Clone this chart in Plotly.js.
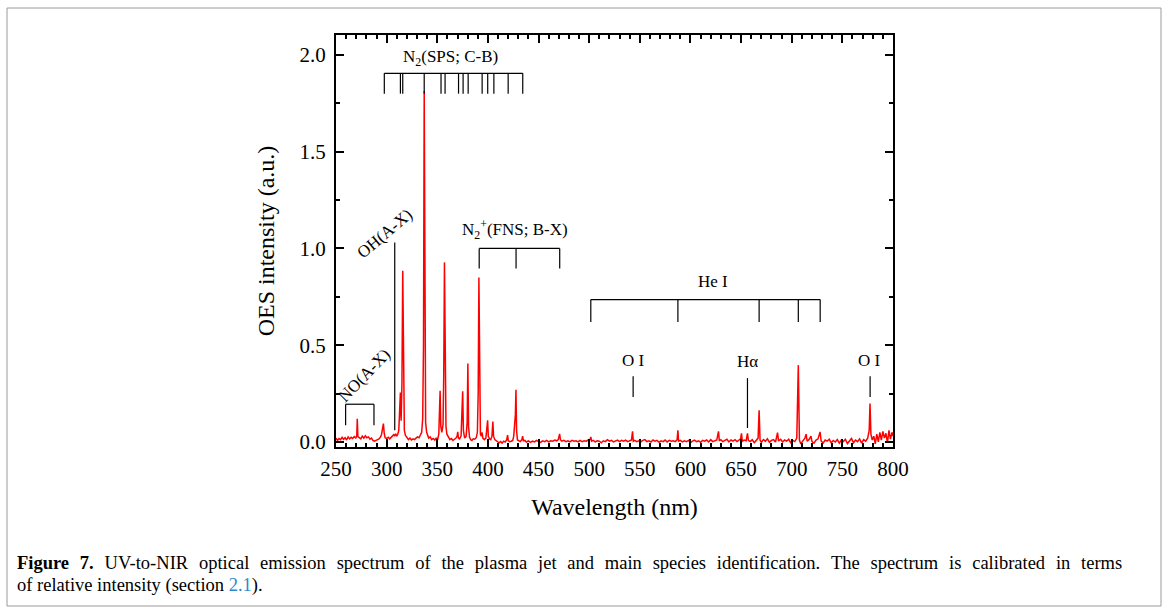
<!DOCTYPE html>
<html>
<head>
<meta charset="utf-8">
<script src="https://cdn.plot.ly/plotly-3.0.1.min.js"></script>
<style>html,body{margin:0;padding:0;background:#fff;}#chart{width:1168px;height:614px;}</style>
</head>
<body>
<div id="chart"></div>
<script>
// ---- Spectrum data ----
const uvWl = [250,251.5,253,254.5,256,257.5,259,260.5,262,263.5,265,266.5,268,269.5,270.5,271,271.6,273,274.5,276,277.5,279,280.5,282,283.5,285,286.5,288,289.5,291,292.5,294,295,296,296.8,297.6,298.5,300,
301.5,303,304.5,306,307,308,309,310,311,312,313,313.6,314.3,315.1,315.9,316.6,317.5,318.5,320,321.5,323,324.5,326,327.5,329,330.5,332,333.5,334.6,335.6,336.4,337.1,337.8,338.5,339.5,340.5,341.5,343,344.5];
const uvInt = [0.020,0.008,0.018,0.012,0.024,0.014,0.022,0.010,0.026,0.016,0.024,0.018,0.028,0.020,0.030,0.120,0.028,0.022,0.016,0.030,0.020,0.032,0.022,0.026,0.014,0.020,0.008,0.004,0.010,0.012,0.016,0.026,0.040,0.065,0.095,0.045,0.022,0.018,
0.024,0.016,0.026,0.030,0.038,0.032,0.042,0.030,0.040,0.060,0.160,0.255,0.110,0.300,0.885,0.250,0.060,0.035,0.020,0.012,0.020,0.010,0.016,0.012,0.020,0.026,0.022,0.040,0.050,0.120,0.500,1.814,0.450,0.100,0.050,0.035,0.020,0.026,0.012];

const blueWl = [346,347.5,349,350.5,351.5,352.1,352.8,353.5,354.5,355.7,356.4,357.1,357.8,358.6,359.5,361,362.5,364,365.5,367,368.5,369.6,370.2,370.9,372,373.5,374.4,375.1,375.8,377,378.5,379.5,380.2,380.9,381.8,383,384.2,385.5,387,388.5,389.6,390.4,391.1,391.8,392.6,393.5,394.2,395,396.5,398,399,399.7,400.4,401.5,402.8,404,404.9,405.6,406.8,408,409.5,411,412.5,414,415.5,417,418.5,419.4,420.2,421.5,423,424.5,425.5,426.4,427.1,427.7,428.3,429.2,430.5,432,433.5,434.3,435,436.5,438,440,442,444,446,448,450,452,454,456,458,460,462,464,466,468,469.5,470.8,471.6,473,475,477,479,481,483,485,487,489,491,493,495,497,499];
const blueInt = [0.018,0.010,0.020,0.016,0.040,0.120,0.265,0.080,0.050,0.090,0.350,0.928,0.300,0.080,0.040,0.022,0.012,0.018,0.008,0.014,0.020,0.030,0.052,0.020,0.016,0.030,0.120,0.262,0.060,0.020,0.030,0.100,0.405,0.080,0.025,0.012,0.008,0.016,0.014,0.022,0.050,0.250,0.850,0.200,0.040,0.030,0.050,0.020,0.012,0.020,0.060,0.112,0.030,0.016,0.012,0.030,0.105,0.030,0.012,0.006,0.000,-0.004,0.002,-0.006,0.004,0.000,0.010,0.035,0.006,0.002,0.004,0.008,0.030,0.090,0.140,0.270,0.060,0.010,0.004,0.002,0.012,0.030,0.006,0.008,0.000,0.006,-0.002,0.004,0.000,0.008,0.002,-0.002,0.006,0.002,0.008,0.000,0.006,0.004,0.010,0.006,0.012,0.042,0.012,0.004,0.008,0.002,0.006,0.000,0.008,0.004,0.006,0.000,0.008,0.002,0.006,0.004,0.010];

const visWl = [500.8,501.6,502.4,504,506,508,510,512,514,516,518,520,522,524,526,528,530,532,534,536,538,540,541.8,542.8,543.6,545,547,549,551,553,555,557,559,561,563,565,567,569,571,573,575,577,579,581,583,585,586.8,587.6,588.3,590,592,594,596,598,600,602,604,606,608,610,612,614,616,618,620,622,624,626,627.7,628.5,630,632,634,636,638,640,642,644,646,648,649.5,650.4,651.2,653,655,656.3,657.2,659,661,663,665,666.8,667.8,668.7,670,672,674,676,678,680,682,684,686,687,689,691,693,695,697,699,701,703,705,706.5,707.6,709,711,713,714.2,715.2,717,719,720,722,724,726,728,729,731,733,735,737,739,741,743,745,747,749,751,753,755,757,759,761,763,765,767,769,771,773,775,776.5,777.3,778.2,779.5,781,782.5,784,785.5,787,788.5,790,791.5,793,794.5,796,797.5,799,800];
const visInt = [0.012,0.026,0.004,0.008,0.000,0.006,0.004,-0.004,0.006,0.002,0.012,0.004,0.008,0.000,0.006,0.010,0.002,0.008,0.004,0.010,0.002,0.006,0.010,0.055,0.004,0.008,0.002,0.006,0.000,0.008,0.012,0.002,0.006,0.000,0.010,0.004,0.008,-0.002,0.006,0.002,0.010,0.000,0.008,0.004,0.006,0.002,0.012,0.060,0.004,0.008,0.000,0.006,0.002,0.008,-0.004,0.004,0.010,0.002,0.006,-0.002,0.008,0.004,0.010,0.000,0.012,0.002,0.006,0.010,0.055,0.006,0.012,0.002,0.008,0.014,0.000,0.010,0.004,0.012,0.002,0.008,0.016,0.045,0.004,0.010,0.006,0.045,0.008,0.002,0.012,-0.004,0.010,0.020,0.164,0.010,-0.002,0.012,0.004,0.016,-0.002,0.008,0.012,0.000,0.048,0.006,0.014,0.000,0.010,0.004,0.014,-0.004,0.008,0.002,0.020,0.397,0.010,-0.010,0.006,0.020,0.040,0.004,0.012,0.030,0.002,-0.006,0.010,0.016,0.052,0.006,-0.006,0.010,0.004,0.014,-0.004,0.008,0.000,0.012,-0.006,0.010,0.002,0.014,-0.008,0.008,0.018,-0.004,0.010,0.002,0.016,-0.006,0.012,0.004,0.020,0.060,0.199,0.040,0.010,0.030,-0.010,0.040,0.000,0.050,0.010,0.055,0.020,0.045,-0.005,0.060,0.015,0.050,0.030];

// ---- Species identification (wavelengths, nm) ----
const n2SpsLines = [297.7,313.6,315.9,337.1,353.7,357.7,371.0,375.5,380.5,394.3,399.8,405.9,420.0,434.4];
const n2pFnsLines = [391.4,427.8,470.9];
const heILines = [501.6,587.6,667.8,706.5,728.1];
const noBand = [259.5,287.5];
const ohLine = [308.0];
const oILines = [543.4,777.4];
const hAlphaLine = [656.3];

const xTickVals = [250,300,350,400,450,500,550,600,650,700,750,800];
const yTickVals = [0.0,0.5,1.0,1.5,2.0];

const captionLine1 = 'UV-to-NIR optical emission spectrum of the plasma jet and main species identification. The spectrum is calibrated in terms';
const captionLine2 = 'of relative intensity (section ';

// ---- Build traces ----
const wl = uvWl.concat(blueWl, visWl);
const inten = uvInt.concat(blueInt, visInt);

const spectrum = {
  x: wl, y: inten, type: 'scatter', mode: 'lines',
  line: {color: '#ff0000', width: 1.5},
  hoverinfo: 'skip', showlegend: false
};

const shapes = [];
const blk = {color: '#000', width: 1.2};
function bracket(lines, yTop, yBot) {
  shapes.push({type:'line', xref:'x', yref:'y', x0: lines[0], x1: lines[lines.length-1], y0: yTop, y1: yTop, line: blk});
  lines.forEach(v => shapes.push({type:'line', xref:'x', yref:'y', x0: v, x1: v, y0: yTop, y1: yBot, line: blk}));
}
function marker(v, yTop, yBot) {
  shapes.push({type:'line', xref:'x', yref:'y', x0: v, x1: v, y0: yTop, y1: yBot, line: blk});
}
bracket(n2SpsLines, 1.905, 1.80);
bracket(n2pFnsLines, 1.0, 0.897);
bracket(heILines, 0.736, 0.62);
bracket(noBand, 0.195, 0.086);
marker(ohLine[0], 1.031, 0.06);
oILines.forEach(v => marker(v, 0.34, 0.233));
marker(hAlphaLine[0], 0.33, 0.072);

// Figure frame
shapes.push({type:'rect', xref:'paper', yref:'paper',
  x0: (7-336)/557, x1: (1161-336)/557, y0: (447-606)/412, y1: (447-8)/412,
  line: {color: '#9a9a9a', width: 1}, layer: 'below'});

const serif = 'Liberation Serif, Times New Roman, serif';
const aFont = {family: serif, size: 17, color: '#000'};
const annotations = [
  {x: 362.6, y: 1.985, text: 'N<sub>2</sub>(SPS; C-B)'},
  {x: 426.9, y: 1.10, text: 'N<sub>2</sub><sup>+</sup>(FNS; B-X)'},
  {x: 621.8, y: 0.83, text: 'He I'},
  {x: 543.4, y: 0.42, text: 'O I'},
  {x: 656.4, y: 0.414, text: 'H\u03b1'},
  {x: 777.0, y: 0.42, text: 'O I'},
  {x: 298.4, y: 1.075, text: 'OH(A-X)', textangle: -40},
  {x: 277.7, y: 0.345, text: 'NO(A-X)', textangle: -46}
].map(a => Object.assign({xref:'x', yref:'y', showarrow:false, font: aFont, xanchor:'center', yanchor:'middle'}, a));

// justified first caption line: widen the word gaps
const wideGap = ' \u2004';
annotations.push({
  xref:'paper', yref:'paper', x: (15-336)/557, y: (447-563)/412, xanchor:'left', yanchor:'middle', showarrow:false, align:'left',
  font: {family: serif, size: 18.5, color:'#000'},
  text: '<b>Figure' + wideGap + '7.</b>' + wideGap + captionLine1.split(' ').join(wideGap)
});
annotations.push({
  xref:'paper', yref:'paper', x: (15-336)/557, y: (447-585)/412, xanchor:'left', yanchor:'middle', showarrow:false, align:'left',
  font: {family: serif, size: 18.5, color:'#000'},
  text: captionLine2 + '<span style="color:#2a8bcb">2.1</span>).'
});

const layout = {
  width: 1168, height: 614,
  margin: {l: 336, r: 275, t: 35, b: 167},
  paper_bgcolor: '#fff', plot_bgcolor: '#fff',
  font: {family: serif, color: '#000'},
  showlegend: false,
  xaxis: {
    range: [250, 800], tickvals: xTickVals, ticktext: xTickVals.map(String),
    ticks: 'inside', ticklen: 8, tickwidth: 2, tickcolor: '#000',
    minor: {dtick: 10, tick0: 250, ticks: 'inside', ticklen: 4, tickwidth: 1.5, tickcolor: '#000'},
    showline: true, linewidth: 2, linecolor: '#000', mirror: 'ticks',
    showgrid: false, zeroline: false,
    tickfont: {family: serif, size: 21, color: '#000'},
    ticklabelstandoff: 2,
    title: {text: 'Wavelength (nm)', font: {family: serif, size: 24, color: '#000'}, standoff: 18},
    automargin: false
  },
  yaxis: {
    range: [-0.026, 2.103], tickvals: yTickVals, ticktext: yTickVals.map(v => v.toFixed(1)),
    ticks: 'inside', ticklen: 8, tickwidth: 2, tickcolor: '#000',
    minor: {dtick: 0.25, tick0: 0, ticks: 'inside', ticklen: 4, tickwidth: 1.5, tickcolor: '#000'},
    showline: true, linewidth: 2, linecolor: '#000', mirror: 'ticks',
    showgrid: false, zeroline: false,
    tickfont: {family: serif, size: 21, color: '#000'},
    ticklabelstandoff: 4,
    title: {text: 'OES intensity (a.u.)', font: {family: serif, size: 24, color: '#000'}, standoff: 18},
    automargin: false
  },
  shapes: shapes,
  annotations: annotations
};

Plotly.newPlot('chart', [spectrum], layout, {displayModeBar: false, responsive: false});
</script>
</body>
</html>
